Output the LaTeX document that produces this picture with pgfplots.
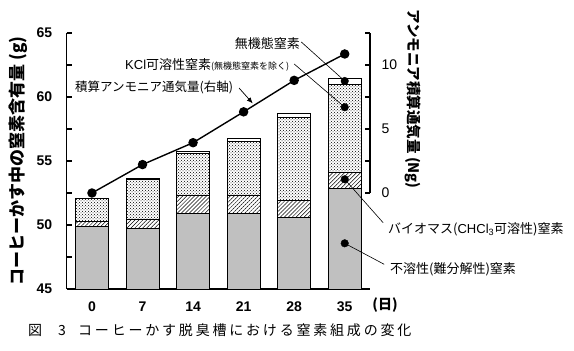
\documentclass[border=0pt]{standalone}
\usepackage{pgfplots}
\pgfplotsset{compat=1.18}
\usepackage{fontspec}
\setmainfont{Liberation Sans}
\newfontfamily\jp{Noto Sans CJK JP}
\usetikzlibrary{patterns,patterns.meta,arrows.meta}
\definecolor{barg}{RGB}{192,192,192}
\pgfplotstableread{
x total dotted hatch gray
0 52.10 52.05 50.26 49.87
1 53.64 53.52 50.46 49.71
2 55.76 55.60 52.34 50.91
3 56.76 56.56 52.34 50.91
4 58.73 58.38 51.95 50.60
5 61.46 60.99 54.14 52.84
}\bars
\pgfplotstableread{
x nh3
0 0.00
1 2.22
2 3.93
3 6.34
4 8.80
5 10.86
}\line
\begin{document}
\begin{tikzpicture}
\path[use as bounding box] (-66.7pt,-62pt) rectangle (507.3pt,289pt);
\begin{axis}[
  at={(0pt,0pt)}, anchor=south west,
  scale only axis, width=303.3pt, height=256pt,
  xmin=-0.5, xmax=5.5, ymin=45, ymax=65,
  axis x line*=bottom, axis y line*=left,
  axis line style={line width=1.6pt},
  xtick={0,1,2,3,4,5}, xticklabels={0,7,14,21,28,35},
  x tick style={draw=none},
  xticklabel style={font=\bfseries\fontsize{14}{14}\selectfont, yshift=-9pt},
  ytick={45,50,55,60,65}, minor ytick={47.5,52.5,57.5,62.5},
  tick align=inside,
  major tick length=5pt, minor tick length=5pt,
  y tick style={line width=1.2pt, black},
  yticklabel style={font=\bfseries\fontsize{14}{14}\selectfont, xshift=-11pt},
  /pgf/number format/assume math mode=true,
  clip mode=individual,
]
\addplot[ybar, bar width=33pt, bar shift=0pt, draw=black, line width=0.9pt, fill=white] table[x=x,y=total]{\bars};
\addplot[ybar, bar width=33pt, bar shift=0pt, draw=black, line width=0.9pt, fill=white, postaction={pattern=crosshatch dots}] table[x=x,y=dotted]{\bars};
\addplot[ybar, bar width=33pt, bar shift=0pt, draw=black, line width=0.9pt, fill=white, postaction={pattern={Lines[angle=45,distance=2.8pt,line width=0.5pt]}}] table[x=x,y=hatch]{\bars};
\addplot[ybar, bar width=33pt, bar shift=0pt, draw=black, line width=0.9pt, fill=barg] table[x=x,y=gray]{\bars};
\addplot[only marks, mark=*, mark size=3.8pt, black] coordinates {(5,61.25) (5,59.2) (5,53.57) (5,48.57)};
\draw[line width=0.6pt] (axis cs:4.14,64.3) -- (axis cs:5,61.25);
\draw[line width=0.6pt] (axis cs:4.0,62.58) -- (axis cs:5,59.2);
\draw[line width=0.6pt] (axis cs:5,53.57) -- (axis cs:5.76,50.18);
\draw[line width=0.6pt] (axis cs:5,48.57) -- (axis cs:5.78,46.93);
\draw[line width=0.7pt, -{Latex[length=6pt,width=5pt]}] (axis cs:2.91,60.7) -- (axis cs:3.18,59.5);
\end{axis}
\begin{axis}[
  at={(0pt,0pt)}, anchor=south west,
  scale only axis, width=303.3pt, height=256pt,
  xmin=-0.5, xmax=5.5, ymin=-7.5, ymax=12.5,
  axis x line=none, axis y line*=right,
  y axis line style={draw=none},
  xtick=\empty,
  ytick={0,5,10}, minor ytick={2.5,7.5,12.5},
  tick align=inside,
  major tick length=5pt, minor tick length=5pt,
  y tick style={line width=1.2pt, black},
  yticklabel style={font=\fontsize{14}{14}\selectfont, xshift=8pt},
  /pgf/number format/assume math mode=true,
  clip=false,
]
\draw[line width=1.6pt] (axis cs:5.5,0) -- (axis cs:5.5,12.5);
\addplot[black, line width=1.4pt, mark=*, mark size=4pt] table[x=x,y=nh3]{\line};
\end{axis}
% texts
\node[anchor=east, inner sep=0pt, font=\jp\fontsize{13}{13}\selectfont] at (233.3pt,245pt) {無機態窒素};
\node[anchor=west, inner sep=0pt, font=\fontsize{13}{13}\selectfont] at (58.3pt,224pt) {KCl{\jp 可溶性窒素}{\jp\fontsize{9}{9}\selectfont (無機態窒素を除く)}};
\node[anchor=west, inner sep=0pt, font=\jp\fontsize{12.5}{12.5}\selectfont] at (8.3pt,202pt) {積算アンモニア通気量(右軸)};
\node[anchor=west, inner sep=0pt, font=\jp\fontsize{13}{13}\selectfont] at (321.3pt,60pt) {バイオマス({\fontspec{Liberation Sans}CHCl\textsubscript{3}}可溶性)窒素};
\node[anchor=west, inner sep=0pt, font=\jp\fontsize{13}{13}\selectfont] at (323.3pt,20pt) {不溶性(難分解性)窒素};
\node[inner sep=0pt, font=\jp\bfseries\fontsize{14}{14}\selectfont] at (318.3pt,-16pt) {(日)};
\node[rotate=90, inner sep=0pt, font=\jp\bfseries\fontsize{17}{17}\selectfont] at (-48.7pt,128pt) {コーヒーかす中の窒素含有量 (g)};
\node[rotate=-90, inner sep=0pt, font=\jp\bfseries\fontsize{14.5}{14.5}\selectfont] at (346.3pt,190pt) {アンモニア積算通気量 (Ng)};
\node[anchor=west, inner sep=0pt, font=\jp\fontsize{14}{14}\selectfont] at (-38.7pt,-41pt) {図\hspace{16pt}3};
\node[anchor=west, inner sep=0pt, font=\jp\fontsize{14}{14}\selectfont\addfontfeature{LetterSpace=20}] at (11.3pt,-41pt) {コーヒーかす脱臭槽における窒素組成の変化};
\end{tikzpicture}
\end{document}
